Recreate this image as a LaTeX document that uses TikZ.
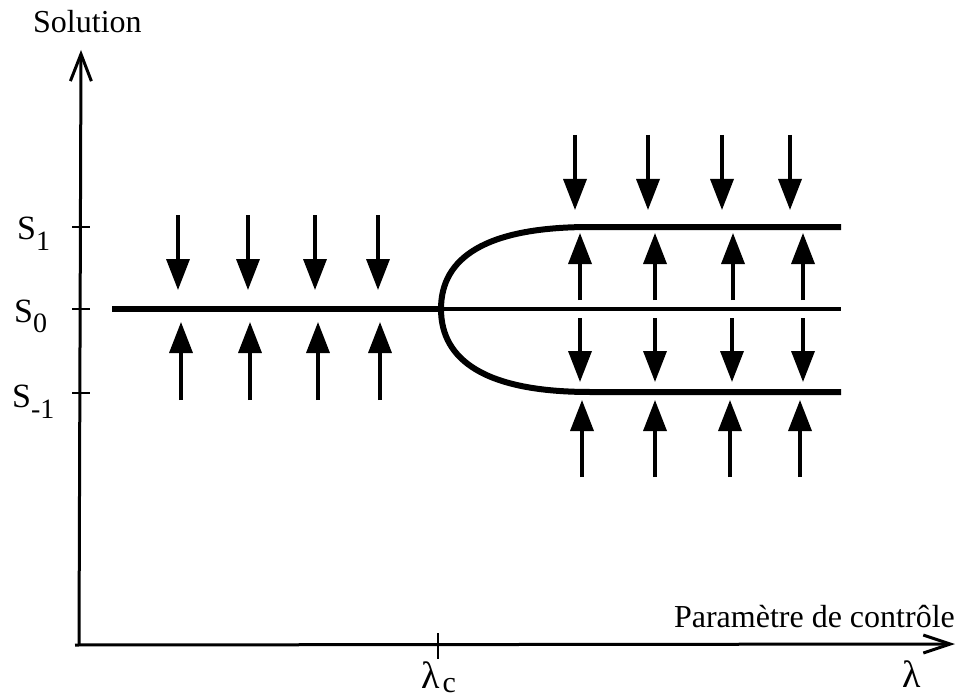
\documentclass[tikz,border=0pt]{standalone}
\usepackage{fontspec}
\setmainfont{Liberation Serif}
\usetikzlibrary{arrows.meta}
\begin{document}
\begin{tikzpicture}[x=1pt,y=-1pt,
  axis/.style={line width=3pt},
  flow/.style={line width=3.5pt,-{Triangle[length=31pt,width=23pt]}},
  branch/.style={line width=6pt},
  thinbranch/.style={line width=4pt},
  tickmark/.style={line width=2.5pt},
  lbl/.style={inner sep=0pt,font=\fontsize{32}{38}\selectfont},
  slbl/.style={inner sep=0pt,anchor=base west,font=\fontsize{34}{38}\selectfont}
]
\useasboundingbox (0,0) rectangle (959,698);
% axes
\coordinate (O) at (79,645);
\coordinate (Ytop) at (81,50);
\coordinate (Xl) at (75,645);
\coordinate (Xtip) at (955,644);
\draw[axis,-{Straight Barb[length=27pt,width=21pt]}] (O) -- (Ytop);
\draw[axis,-{Straight Barb[length=27pt,width=18pt]}] (Xl) -- (Xtip);
% ticks
\coordinate (t1a) at (72,227); \coordinate (t1b) at (90,227);
\coordinate (t0a) at (72,309); \coordinate (t0b) at (90,309);
\coordinate (tma) at (72,393); \coordinate (tmb) at (90,393);
\coordinate (tca) at (438,633); \coordinate (tcb) at (438,659);
\draw[tickmark] (t1a) -- (t1b);
\draw[tickmark] (t0a) -- (t0b);
\draw[tickmark] (tma) -- (tmb);
\draw[tickmark] (tca) -- (tcb);
% labels
\node[lbl,anchor=base west] (sol) at (33,33) {Solution};
\node[lbl,anchor=base east] (par) at (955,627) {Paramètre de contrôle};
\node[slbl] (s1) at (17,240) {S\raisebox{-10pt}{\fontsize{28}{30}\selectfont 1}};
\node[slbl] (s0) at (14,322) {S\raisebox{-10pt}{\fontsize{28}{30}\selectfont 0}};
\node[slbl] (sm) at (12,407) {S\raisebox{-11pt}{\fontsize{28}{30}\selectfont -1}};
\node[inner sep=0pt,anchor=base west,font=\fontsize{38}{40}\selectfont] (lc) at (421,688) {λ\hspace{3pt}\raisebox{-4pt}{\fontsize{30}{32}\selectfont c}};
\node[inner sep=0pt,anchor=base west,font=\fontsize{38}{40}\selectfont] (lam) at (902,687) {λ};
% solution branches
\coordinate (L0) at (112,309);
\coordinate (V) at (441,309);
\coordinate (R0) at (841,309);
\coordinate (U1) at (590,227); \coordinate (R1) at (841,227);
\coordinate (D1) at (590,392); \coordinate (Rm) at (841,392);
\draw[branch,line width=6.5pt] (L0) -- (V);
\draw[thinbranch] (V) -- (R0);
\draw[branch] (R1) -- (U1) .. controls (485,227) and (441,258) .. (V)
  .. controls (441,360) and (485,392) .. (D1) -- (Rm);
% left arrows
\foreach \xa/\xb [count=\i] in {178/181,248/250,315/318,378/380}{
  \coordinate (ld\i a) at (\xa,215); \coordinate (ld\i b) at (\xa,290);
  \coordinate (lu\i a) at (\xb,400); \coordinate (lu\i b) at (\xb,322);
  \draw[flow] (ld\i a) -- (ld\i b);
  \draw[flow] (lu\i a) -- (lu\i b);
}
% right arrows
\foreach \xa/\xb/\xc/\xd [count=\i] in {575/580/580/582,648/655/655/655,722/733/732/730,790/803/803/800}{
  \coordinate (ra\i a) at (\xa,135); \coordinate (ra\i b) at (\xa,210);
  \coordinate (rb\i a) at (\xb,300); \coordinate (rb\i b) at (\xb,233);
  \coordinate (rc\i a) at (\xc,318); \coordinate (rc\i b) at (\xc,382);
  \coordinate (rd\i a) at (\xd,477); \coordinate (rd\i b) at (\xd,400);
  \draw[flow] (ra\i a) -- (ra\i b);
  \draw[flow] (rb\i a) -- (rb\i b);
  \draw[flow] (rc\i a) -- (rc\i b);
  \draw[flow] (rd\i a) -- (rd\i b);
}
\end{tikzpicture}
\end{document}
